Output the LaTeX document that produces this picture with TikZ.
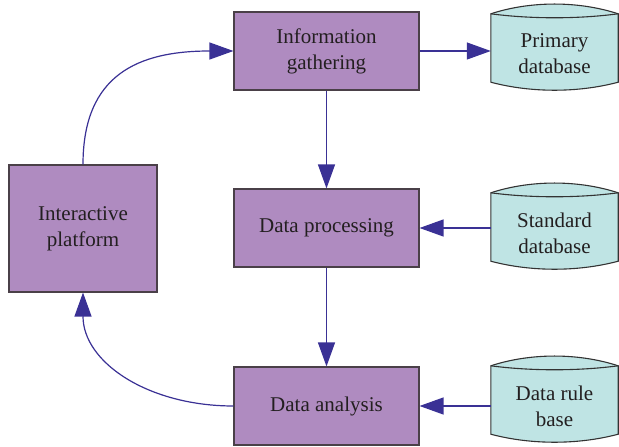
\documentclass[tikz,border=0pt]{standalone}
\usepackage{fontspec}
\setmainfont{Liberation Serif}
\usetikzlibrary{arrows.meta,calc,backgrounds}
\definecolor{boxfill}{HTML}{AF8BC0}
\definecolor{boxline}{HTML}{4A4048}
\definecolor{cylfill}{HTML}{BFE4E4}
\definecolor{cylline}{HTML}{333333}
\definecolor{arrc}{HTML}{3A3195}
\definecolor{txt}{HTML}{231F20}
\tikzset{
  procbox/.style={draw=boxline,line width=1.1pt,fill=boxfill,minimum width=185pt,minimum height=78pt,align=center,text=txt,inner sep=0pt,font=\fontsize{21}{26}\selectfont},
  cylbox/.style={minimum width=127pt,minimum height=72pt,align=center,text=txt,inner sep=0pt,font=\fontsize{21}{26}\selectfont},
  cylstyle/.style={draw=cylline,line width=1.1pt,fill=cylfill},
  arr/.style={draw=arrc,line width=1.2pt,-{Triangle[length=24pt,width=17pt]}}
}
\newcommand\mycyl[1]{%
  \begin{pgfonlayer}{background}
  \path[cylstyle] ($(#1.north west)+(0,4)$) .. controls ($(#1.north west)+(40,17)$) and ($(#1.north east)+(-40,17)$) .. ($(#1.north east)+(0,4)$)
    -- ($(#1.south east)+(0,8)$) .. controls ($(#1.south east)+(-40,-2.7)$) and ($(#1.south west)+(40,-2.7)$) .. ($(#1.south west)+(0,8)$) -- cycle;
  \draw[draw=cylline,line width=1.1pt] ($(#1.north west)+(0,4)$) .. controls ($(#1.north west)+(40,-1.3)$) and ($(#1.north east)+(-40,-1.3)$) .. ($(#1.north east)+(0,4)$);
  \end{pgfonlayer}}
\begin{document}
\begin{tikzpicture}[x=1pt,y=1pt]
\useasboundingbox (0,0) rectangle (619,447);
\node[procbox] (ig) at (326.5,396) {Information\\gathering};
\node[procbox] (dp) at (326.5,219) {Data processing};
\node[procbox] (da) at (326.5,41) {Data analysis};
\node[procbox,minimum width=148pt,minimum height=127pt] (ip) at (83,218.5) {Interactive\\platform};
\node[cylbox] (pd) at (554.5,393) {Primary\\database};
\node[cylbox] (sd) at (554.5,214) {Standard\\database};
\node[cylbox] (rb) at (554.5,41) {Data rule\\base};
\mycyl{pd}
\mycyl{sd}
\mycyl{rb}
\draw[arr] (ig.east) -- (pd.west |- ig.east);
\draw[arr] (ig.south) -- (dp.north);
\draw[arr] (dp.south) -- (da.north);
\draw[arr] (sd.west |- dp.east) -- (dp.east);
\draw[arr] (rb.west |- da.east) -- (da.east);
\draw[arr] (ip.north) .. controls ($(ip.north)+(0,90)$) and ($(ig.west)+(-95,0)$) .. (ig.west);
\draw[arr] (da.west) .. controls ($(da.west)+(-85,0)$) and ($(ip.south)+(0,-70)$) .. (ip.south);
\end{tikzpicture}
\end{document}
